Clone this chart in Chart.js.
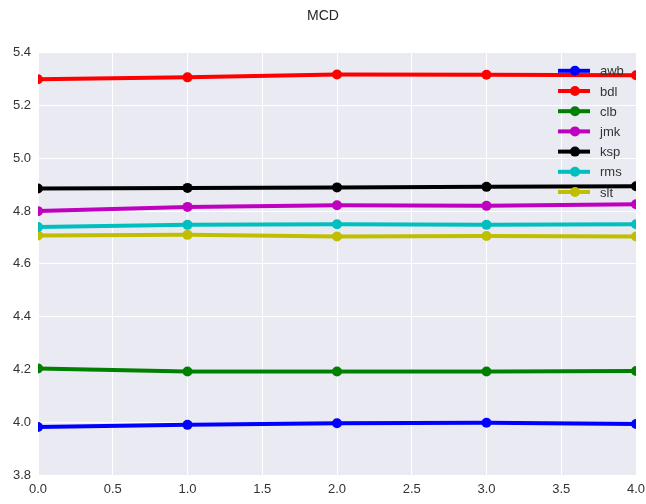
<!DOCTYPE html>
<html>
<head>
<meta charset="utf-8">
<script src="https://cdn.jsdelivr.net/npm/chart.js@4/dist/chart.umd.min.js"></script>
<style>
  html, body { margin: 0; padding: 0; background: #ffffff; }
  #wrap { width: 646px; height: 504px; }
</style>
</head>
<body>
<div id="wrap"><canvas id="c" width="646" height="504"></canvas></div>
<script>
// Epoch index along the x axis
const steps = [0, 1, 2, 3, 4];

// MCD per speaker
const awb = [3.982, 3.990, 3.996, 3.998, 3.993];
const bdl = [5.300, 5.307, 5.318, 5.317, 5.315];
const clb = [4.204, 4.192, 4.192, 4.192, 4.194];
const jmk = [4.800, 4.816, 4.822, 4.820, 4.826];
const ksp = [4.886, 4.888, 4.890, 4.892, 4.894];
const rms = [4.740, 4.748, 4.750, 4.748, 4.750];
const slt = [4.708, 4.710, 4.704, 4.706, 4.704];

const speakers = ['awb', 'bdl', 'clb', 'jmk', 'ksp', 'rms', 'slt'];
const series = [awb, bdl, clb, jmk, ksp, rms, slt];
const colors = ['#0000ff', '#ff0000', '#008000', '#bf00bf', '#000000', '#00bfbf', '#bfbf00'];

const datasets = speakers.map((name, i) => ({
  label: name,
  data: steps.map((x, j) => ({ x: x, y: series[i][j] })),
  borderColor: colors[i],
  backgroundColor: colors[i],
  borderWidth: 4,
  pointRadius: 5,
  pointHoverRadius: 5,
  pointBorderWidth: 0,
  tension: 0,
  clip: 0
}));

// Light grey panel behind the plot
const panelBg = {
  id: 'panelBg',
  beforeDraw(chart) {
    const { ctx, chartArea: a } = chart;
    ctx.save();
    ctx.fillStyle = '#eaeaf2';
    ctx.fillRect(a.left, a.top, a.right - a.left, a.bottom - a.top);
    ctx.restore();
  }
};

// Frameless legend in the upper right of the plot: line segment with a dot
const innerLegend = {
  id: 'innerLegend',
  afterDraw(chart) {
    const { ctx, chartArea: a } = chart;
    ctx.save();
    ctx.font = '13px "Liberation Sans", Arial, sans-serif';
    ctx.textBaseline = 'middle';
    ctx.textAlign = 'left';
    const x0 = a.right - 78, rowH = 20.2, y0 = a.top + 18;
    chart.data.datasets.forEach((ds, i) => {
      const y = y0 + i * rowH;
      ctx.strokeStyle = ds.borderColor;
      ctx.lineWidth = 4;
      ctx.beginPath();
      ctx.moveTo(x0, y);
      ctx.lineTo(x0 + 32, y);
      ctx.stroke();
      ctx.fillStyle = ds.borderColor;
      ctx.beginPath();
      ctx.arc(x0 + 17, y, 5, 0, Math.PI * 2);
      ctx.fill();
      ctx.fillStyle = '#333333';
      ctx.fillText(ds.label, x0 + 42, y + 1);
    });
    ctx.restore();
  }
};

new Chart(document.getElementById('c'), {
  type: 'line',
  data: { datasets },
  plugins: [panelBg, innerLegend],
  options: {
    responsive: false,
    animation: false,
    devicePixelRatio: 1,
    layout: { padding: { left: 0, right: 0, top: 0, bottom: 0 } },
    plugins: {
      legend: { display: false },
      tooltip: { enabled: false },
      title: {
        display: true,
        text: 'MCD',
        color: '#262626',
        font: { family: '"Liberation Sans", Arial, sans-serif', size: 14, weight: 'normal' },
        padding: { top: 8, bottom: 28 }
      }
    },
    scales: {
      x: {
        type: 'linear',
        min: 0,
        max: 4,
        border: { display: false },
        grid: { color: '#ffffff', lineWidth: 1, drawTicks: false },
        ticks: {
          stepSize: 0.5,
          padding: 7,
          color: '#333333',
          font: { family: '"Liberation Sans", Arial, sans-serif', size: 13 },
          callback: v => Number(v).toFixed(1),
          maxRotation: 0
        },
        afterFit(scale) {
          scale.height = 29;
          scale.paddingRight = 10;
        }
      },
      y: {
        type: 'linear',
        min: 3.8,
        max: 5.4,
        border: { display: false },
        grid: { color: '#ffffff', lineWidth: 1, drawTicks: false },
        ticks: {
          stepSize: 0.2,
          padding: 7,
          color: '#333333',
          font: { family: '"Liberation Sans", Arial, sans-serif', size: 13 },
          callback: v => Number(v).toFixed(1)
        },
        afterFit(scale) { scale.width = 38; }
      }
    }
  }
});
</script>
</body>
</html>
